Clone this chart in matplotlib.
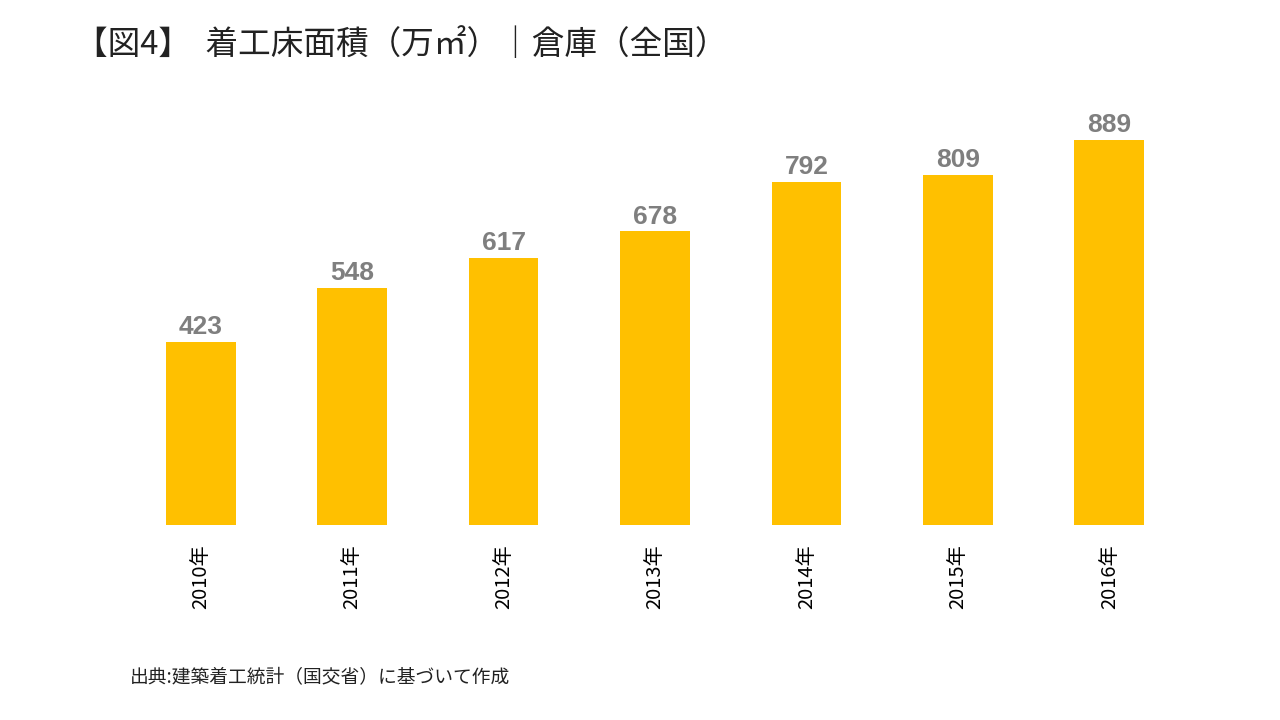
import matplotlib
matplotlib.use("Agg")
import matplotlib.pyplot as plt

years = ["2010年","2011年","2012年","2013年","2014年","2015年","2016年"]
values = [423, 548, 617, 678, 792, 809, 889]

plt.rcParams["font.family"] = ["Noto Sans CJK JP"]
fig = plt.figure(figsize=(12.8, 7.2), dpi=100)
ax = fig.add_axes([125/1280, 1-525/720, 1060/1280, 433/720])
x = range(len(years))
ax.bar(x, values, width=0.46, color="#FFC000")
for i, v in zip(x, values):
    ax.text(i, v + 6, str(v), ha="center", va="bottom", fontsize=19, fontweight="bold",
            color="#7F7F7F", family="Liberation Sans")
ax.set_xlim(-0.5, 6.5)
ax.set_ylim(0, 1000)
ax.set_xticks(list(x))
ax.set_xticklabels(years, rotation=90, fontsize=14.5, va="top")
ax.tick_params(axis="x", length=0, pad=14)
ax.set_yticks([])
for s in ax.spines.values():
    s.set_visible(False)
fig.text(75/1280, 1-45/720, "【図4】  着工床面積（万㎡）｜倉庫（全国）", fontsize=23.5, va="center", color="#222222")
fig.text(130/1280, 1-677/720, "出典:建築着工統計（国交省）に基づいて作成", fontsize=13.5, va="center", color="#222222")
fig.savefig("out.png", dpi=100)
